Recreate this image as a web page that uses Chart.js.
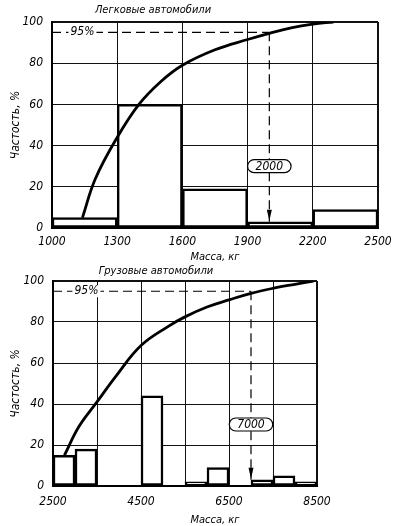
<!DOCTYPE html>
<html>
<head>
<meta charset="utf-8">
<script src="https://cdn.jsdelivr.net/npm/chart.js@4.4.1/dist/chart.umd.min.js"></script>
<style>
  body { margin: 0; background: #fff; }
  .quadro { position: absolute; left: 0; }
</style>
</head>
<body>
<canvas id="graficoCarros" class="quadro" style="top:0" width="396" height="263"></canvas>
<canvas id="graficoCaminhoes" class="quadro" style="top:263px" width="396" height="263"></canvas>
<script>
// Легковые автомобили - intervalos de massa (início, kg) e частость (%)
const massaCarros = [1000, 1300, 1600, 1900, 2200];
const freqCarros = [5, 60, 19, 3, 9];
// curva acumulada
const curvaMassaCarros = [1140, 1200, 1300, 1400, 1500, 1600, 1750, 1900, 2000, 2100, 2200, 2295];
const curvaCarros = [5, 24, 44, 60, 71, 79, 86.5, 91.5, 94.5, 97.2, 99, 100];
const ticksCarros = [1000, 1300, 1600, 1900, 2200, 2500];

// Грузовые автомобили
const massaCaminhoes = [2500, 3000, 3500, 4000, 4500, 5000, 5500, 6000, 6500, 7000, 7500, 8000];
const freqCaminhoes = [15, 18, null, null, 44, null, 2, 9, null, 3, 5, 2];
const curvaMassaCaminhoes = [2760, 3090, 3500, 3910, 4500, 5130, 5500, 6000, 6500, 7000, 7540, 8000, 8420];
const curvaCaminhoes = [15, 29, 41, 53, 68.5, 78, 82.5, 87.3, 90.8, 94, 96.6, 98.4, 100];
const ticksCaminhoes = [2500, 4500, 6500, 8500];

// linha de 95% e massas marcadas
const nivel = 95;
const rotuloNivel = '95%';
const marcaCarros = 2000;
const marcaCaminhoes = 7000;

const FONTE = "'Liberation Sans Narrow', 'DejaVu Sans Condensed', 'Liberation Sans', sans-serif";
Chart.defaults.color = '#000';
Chart.defaults.font.family = FONTE;
Chart.defaults.font.style = 'italic';
Chart.defaults.font.size = 12;
Chart.defaults.animation = false;

function pontos(xs, ys) {
    return xs.map((x, i) => ({ x: x, y: ys[i] }));
}

// Barras centradas no meio de cada intervalo
function barras(inicio, freq, largura) {
    return inicio.map((m, i) => ({ x: m + largura / 2, y: freq[i] }));
}

// Textos extras: 95%, seta, rótulo da massa e título
const anotacoes = {
    id: 'anotacoes',
    afterDatasetsDraw(chart, args, op) {
        const ctx = chart.ctx;
        const xs = chart.scales.x;
        const ys = chart.scales.y;
        ctx.save();
        ctx.font = 'italic 12px ' + FONTE;
        ctx.textAlign = 'center';
        ctx.textBaseline = 'middle';

        // 95%
        const px = xs.getPixelForValue(op.massaRotulo);
        const py = ys.getPixelForValue(nivel);
        const w = ctx.measureText(rotuloNivel).width + 4;
        ctx.fillStyle = '#fff';
        ctx.fillRect(px - w / 2, py - 6, w, 12);
        ctx.fillStyle = '#000';
        ctx.fillText(rotuloNivel, px, py);

        // seta
        const ax = xs.getPixelForValue(op.marca);
        const ay = ys.getPixelForValue(op.alvo);
        ctx.beginPath();
        ctx.moveTo(ax, ay - 1);
        ctx.lineTo(ax - 2.5, ay - 12);
        ctx.lineTo(ax + 2.5, ay - 12);
        ctx.closePath();
        ctx.fill();

        // rótulo oval
        const cy = ys.getPixelForValue(op.alturaRotulo);
        const texto = String(op.marca);
        const tw = ctx.measureText(texto).width + 16;
        ctx.beginPath();
        ctx.roundRect(ax - tw / 2, cy - 6.5, tw, 13, 6.5);
        ctx.fillStyle = '#fff';
        ctx.fill();
        ctx.lineWidth = 1.2;
        ctx.strokeStyle = '#000';
        ctx.stroke();
        ctx.fillStyle = '#000';
        ctx.fillText(texto, ax, cy + 0.5);

        // título e eixo x
        ctx.font = 'italic 11px ' + FONTE;
        ctx.fillText(op.titulo, op.tituloX, op.tituloY);
        if (op.eixoX) {
            ctx.fillText('Масса, кг', op.eixoX[0], op.eixoX[1]);
        }
        ctx.restore();
    }
};

function criarGrafico(id, d) {
    const ctx = document.getElementById(id).getContext('2d');
    const preto = '#111';
    return new Chart(ctx, {
        type: 'bar',
        data: {
            datasets: [
                {
                    type: 'line',
                    data: pontos(d.curvaMassa, d.curva),
                    borderColor: '#000',
                    borderWidth: 2.8,
                    pointRadius: 0,
                    tension: 0.4,
                    order: 1
                },
                {
                    type: 'line',
                    data: [{ x: d.min, y: nivel }, { x: d.marca, y: nivel }],
                    borderColor: '#000',
                    borderWidth: 1.2,
                    borderDash: [9, 5],
                    pointRadius: 0,
                    order: 0
                },
                {
                    type: 'line',
                    data: [{ x: d.marca, y: nivel }, { x: d.marca, y: d.alvo }],
                    borderColor: '#000',
                    borderWidth: 1.2,
                    borderDash: [9, 5],
                    pointRadius: 0,
                    order: 0
                },
                {
                    type: 'bar',
                    data: barras(d.massa, d.freq, d.largura),
                    backgroundColor: '#fff',
                    borderColor: '#000',
                    borderWidth: 2.5,
                    borderSkipped: false,
                    barPercentage: 1,
                    categoryPercentage: 1,
                    order: 2
                }
            ]
        },
        options: {
            responsive: false,
            layout: { padding: { top: d.topo, right: d.direita, left: 0, bottom: 0 } },
            plugins: {
                legend: { display: false },
                tooltip: { enabled: false },
                anotacoes: d.anot
            },
            scales: {
                x: {
                    type: 'linear',
                    min: d.min,
                    max: d.max,
                    offset: false,
                    ticks: {
                        stepSize: d.passo,
                        autoSkip: false,
                        maxRotation: 0,
                        padding: d.padX,
                        callback: v => d.rotulos.includes(v) ? v : ''
                    },
                    grid: {
                        offset: false,
                        drawTicks: false,
                        color: preto,
                        lineWidth: c => (c.tick && c.tick.value === d.max) ? 2 : 1
                    },
                    border: { color: '#000', width: 2 },
                    title: {
                        display: !d.anot.eixoX,
                        text: 'Масса, кг',
                        font: { size: 11 },
                        padding: { top: 0, bottom: -1 }
                    },
                    afterFit: s => {
                        s.height = d.alturaX;
                        s.paddingLeft = 0;
                        s.paddingRight = 0;
                    }
                },
                y: {
                    min: 0,
                    max: 100,
                    ticks: { stepSize: 20, padding: 9 },
                    grid: {
                        drawTicks: false,
                        color: preto,
                        lineWidth: c => (c.tick && c.tick.value === 100) ? 2 : 1
                    },
                    border: { color: '#000', width: 2 },
                    title: {
                        display: true,
                        text: 'Частость, %',
                        padding: { top: 9, bottom: 0 }
                    },
                    afterFit: s => { s.width = d.larguraY; }
                }
            }
        },
        plugins: [anotacoes]
    });
}

document.addEventListener('DOMContentLoaded', function() {
    criarGrafico('graficoCarros', {
        massa: massaCarros, freq: freqCarros, largura: 300,
        curvaMassa: curvaMassaCarros, curva: curvaCarros,
        min: 1000, max: 2500, passo: 300, rotulos: ticksCarros,
        marca: marcaCarros, alvo: freqCarros[3],
        topo: 22, direita: 18, alturaX: 35, larguraY: 52, padX: 7,
        anot: {
            massaRotulo: 1140, marca: marcaCarros, alvo: freqCarros[3], alturaRotulo: 30,
            titulo: 'Легковые автомобили', tituloX: 153, tituloY: 10
        }
    });
    criarGrafico('graficoCaminhoes', {
        massa: massaCaminhoes, freq: freqCaminhoes, largura: 500,
        curvaMassa: curvaMassaCaminhoes, curva: curvaCaminhoes,
        min: 2500, max: 8500, passo: 1000, rotulos: ticksCaminhoes,
        marca: marcaCaminhoes, alvo: freqCaminhoes[9],
        topo: 18, direita: 79, alturaX: 40, larguraY: 53, padX: 9,
        anot: {
            massaRotulo: 3260, marca: marcaCaminhoes, alvo: freqCaminhoes[9], alturaRotulo: 30,
            titulo: 'Грузовые автомобили', tituloX: 156, tituloY: 8,
            eixoX: [215, 257]
        }
    });
});
</script>
</body>
</html>
